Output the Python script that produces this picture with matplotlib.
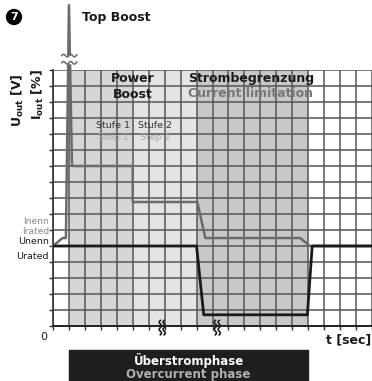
import numpy as np
import matplotlib
matplotlib.use("Agg")
import matplotlib.pyplot as plt
from matplotlib.patches import Rectangle
import matplotlib.transforms as mtransforms

# ---- data (time in grid columns, level in grid rows) ----
t_voltage = [0, 9.0, 9.45, 15.95, 16.25, 20]
u_voltage = [5, 5, 0.7, 0.7, 5, 5]

t_current = [0, 0.6, 0.81, 1.0, 1.19, 5.0, 5.0, 9.05, 9.55, 15.5, 16.1, 20]
i_current = [5, 5.5, 5.5, 20.05, 10, 10, 7.75, 7.75, 5.5, 5.5, 5.0, 5.0]

# phase regions: (start, end, colour)
phase_bounds = [(1, 5), (5, 9), (9, 16)]
phase_colors = ["#d6d6d6", "#e4e4e4", "#c8c8c8"]

u_rated = 5
i_rated = 5.5
x_max, y_max = 19.94, 16
break_positions = [6.85, 10.3]

W, H = 372, 381
fig = plt.figure(figsize=(W / 100, H / 100), dpi=100)
ax = fig.add_axes([53 / W, (H - 326) / H, (W - 53) / W, 256 / H])
ax.set_xlim(0, x_max)
ax.set_ylim(0, y_max)

for (a, b), c in zip(phase_bounds, phase_colors):
    ax.axvspan(a, b, color=c, lw=0, zorder=0)

ax.set_xticks(np.arange(0, 21))
ax.set_yticks(np.arange(0, 17))
ax.grid(True, color="#555555", lw=1.1, zorder=1)
ax.set_axisbelow(True)
ax.tick_params(axis="both", length=3, width=1.0, color="#333333",
               labelbottom=False, labelleft=False, direction="out")
for s in ("top", "right"):
    ax.spines[s].set_visible(False)
ax.spines["left"].set_color("#333333")
ax.spines["left"].set_linewidth(1.2)
ax.spines["bottom"].set_color("#222222")
ax.spines["bottom"].set_linewidth(1.4)

# current (grey) and voltage (black)
ax.plot(t_current, i_current, color="#6a6a6a", lw=1.8, clip_on=False, zorder=3)
ax.plot(t_voltage, u_voltage, color="#1a1a1a", lw=2.0, zorder=4)

# axis break on the boost spike
ax.add_patch(Rectangle((0.5, 16.45), 1.1, 0.45, color="white", clip_on=False, zorder=5))
xs = np.linspace(0.55, 1.5, 40)
for yb in (16.45, 16.9):
    ax.plot(xs, yb + 0.08 * np.sin((xs - 0.55) * 2 * np.pi / 0.45),
            color="#6a6a6a", lw=1.1, clip_on=False, zorder=6)

# time-axis breaks
for xb in break_positions:
    ys = np.linspace(-0.55, 0.35, 40)
    for dx in (-0.12, 0.12):
        ax.plot(xb + dx + 0.07 * np.sin((ys + 0.55) * 2 * np.pi / 0.45), ys,
                color="#1a1a1a", lw=1.2, clip_on=False, zorder=6)

bold = dict(fontweight="bold", family="DejaVu Sans")

# headings inside the grid
ax.text(5.0, 15.45, "Power", ha="center", va="center", fontsize=9, color="#1a1a1a", **bold)
ax.text(5.0, 14.5, "Boost", ha="center", va="center", fontsize=9, color="#1a1a1a", **bold)
ax.text(8.45, 15.45, "Strombegrenzung", ha="left", va="center", fontsize=9, color="#1a1a1a", **bold)
ax.text(8.45, 14.55, "Current limitation", ha="left", va="center", fontsize=9, color="#777777", **bold)
ax.text(3.75, 12.5, "Stufe 1", ha="center", va="center", fontsize=6.8, color="#333333")
ax.text(6.4, 12.5, "Stufe 2", ha="center", va="center", fontsize=6.8, color="#333333")
ax.text(3.75, 11.75, "Step 1", ha="center", va="center", fontsize=6.8, color="#aaaaaa")
ax.text(6.4, 11.75, "Step 2", ha="center", va="center", fontsize=6.8, color="#aaaaaa")

# level labels on the left
ax.text(-0.25, i_rated + 1.05, "Inenn", ha="right", va="center", fontsize=6.6, color="#888888")
ax.text(-0.25, i_rated + 0.4, "Irated", ha="right", va="center", fontsize=6.6, color="#888888")
ax.text(-0.25, u_rated + 0.27, "Unenn", ha="right", va="center", fontsize=6.8, color="#1a1a1a")
ax.text(-0.25, u_rated - 0.65, "Urated", ha="right", va="center", fontsize=6.8, color="#1a1a1a")
ax.text(-0.6, -0.7, "0", ha="center", va="center", fontsize=8, color="#1a1a1a")

# figure-level labels
fig.text(14 / W, 1 - 17 / H, "7", ha="center", va="center", color="white", fontsize=8,
         bbox=dict(boxstyle="circle,pad=0.22", fc="black", ec="black"), **bold)
fig.text(82 / W, 1 - 17 / H, "Top Boost", ha="left", va="center", fontsize=9, color="#1a1a1a", **bold)
fig.text(18 / W, 1 - 100 / H, r"U$_{\mathbf{out}}$ [V]", rotation=90, ha="center", va="center",
         fontsize=9, color="#1a1a1a", **bold)
fig.text(38 / W, 1 - 95 / H, r"I$_{\mathbf{out}}$ [%]", rotation=90, ha="center", va="center",
         fontsize=9, color="#1a1a1a", **bold)
fig.text(371 / W, 1 - 340 / H, "t [sec]", ha="right", va="center", fontsize=9, color="#1a1a1a", **bold)

# overcurrent phase bar below the time axis
trans = mtransforms.blended_transform_factory(ax.transData, fig.transFigure)
ax.add_patch(Rectangle((1, 0), 15, (H - 350) / H, transform=trans, color="#1e1e1e",
                       clip_on=False, zorder=5))
ax.text(8.5, (H - 361) / H, "Überstromphase", transform=trans, ha="center", va="center",
        fontsize=8.5, color="white", zorder=6, **bold)
ax.text(8.5, (H - 374.5) / H, "Overcurrent phase", transform=trans, ha="center", va="center",
        fontsize=8.5, color="#b0b0b0", zorder=6, **bold)

fig.savefig("out.png", dpi=100)
